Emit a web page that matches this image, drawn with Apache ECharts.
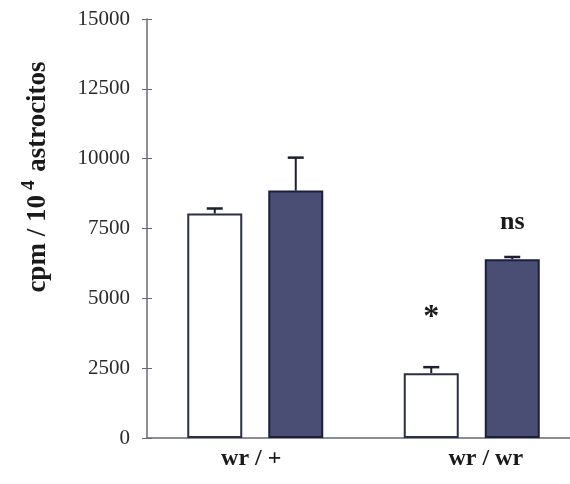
<!DOCTYPE html>
<html>
<head>
<meta charset="utf-8">
<script src="https://cdn.jsdelivr.net/npm/echarts@6/dist/echarts.min.js"></script>
<style>html,body{margin:0;padding:0;background:#fff;}#c{width:570px;height:484px;}</style>
</head>
<body>
<div id="c"></div>
<script>
const categories = ['wr / +', 'wr / wr'];
const controlValues = [8036, 2321];
const controlErrors = [180, 215];
const treatedValues = [8857, 6400];
const treatedErrors = [1180, 80];
const yTicks = [0, 2500, 5000, 7500, 10000, 12500, 15000];
const annotations = [
  { cat: 1, value: 4300, text: '*', series: 0 },
  { cat: 1, value: 7720, text: 'ns', series: 1 }
];

const BAR_W = 55, GAP = 26, HALF = (BAR_W + GAP) / 2;
const serif = '"Liberation Serif", "DejaVu Serif", serif';
const chart = echarts.init(document.getElementById('c'));

function errSeries(vals, errs, dir) {
  return {
    type: 'custom',
    z: 5,
    data: vals.map((v, i) => [i, v, v + errs[i]]),
    renderItem: function (params, api) {
      const lo = api.coord([api.value(0), api.value(1)]);
      const hi = api.coord([api.value(0), api.value(2)]);
      const x = lo[0] + dir * HALF;
      return {
        type: 'group',
        children: [
          { type: 'line', shape: { x1: x, y1: lo[1], x2: x, y2: hi[1] }, style: { stroke: '#1c1f2e', lineWidth: 2 } },
          { type: 'line', shape: { x1: x - 8, y1: hi[1], x2: x + 8, y2: hi[1] }, style: { stroke: '#1c1f2e', lineWidth: 2.5 } }
        ]
      };
    }
  };
}

chart.setOption({
  animation: false,
  backgroundColor: '#fff',
  grid: { left: 147, width: 433, top: 19, bottom: 46, outerBoundsMode: 'none', containLabel: false },
  xAxis: {
    type: 'category',
    data: categories,
    axisLine: { lineStyle: { color: '#666a75', width: 1.5 } },
    axisTick: { show: false },
    axisLabel: {
      margin: 9,
      formatter: function (v, i) { return i === 0 ? '{a|' + v + '}' : '{b|' + v + '}'; },
      rich: {
        a: { fontFamily: serif, fontWeight: 'bold', fontSize: 24, color: '#1a1a1a', padding: [0, 8, 0, 0] },
        b: { fontFamily: serif, fontWeight: 'bold', fontSize: 24, color: '#1a1a1a', padding: [0, 0, 0, 28] }
      }
    }
  },
  yAxis: [{
    type: 'value',
    min: yTicks[0], max: yTicks[yTicks.length - 1], interval: 2500,
    splitLine: { show: false },
    axisLine: { show: true, lineStyle: { color: '#666a75', width: 1.5 } },
    axisTick: { show: true, length: 5, lineStyle: { color: '#666a75' } },
    axisLabel: { margin: 17, fontFamily: serif, fontSize: 21, color: '#2a2a2a', formatter: function (v) { return String(v); } }
  }, {
    type: 'value', position: 'left',
    min: yTicks[0], max: yTicks[yTicks.length - 1], interval: 2500,
    splitLine: { show: false },
    axisLine: { show: false },
    axisTick: { show: true, inside: true, length: 5, lineStyle: { color: '#666a75' } },
    axisLabel: { show: false }
  }],
  graphic: [{
    type: 'text',
    x: 36, y: 177,
    rotation: Math.PI / 2,
    style: {
      text: '{m|cpm / 10}{s|4}{m| astrocitos}',
      align: 'center', verticalAlign: 'middle',
      rich: {
        m: { fontFamily: serif, fontWeight: 'bold', fontSize: 27, fill: '#1a1a1a', verticalAlign: 'bottom', lineHeight: 32 },
        s: { fontFamily: serif, fontWeight: 'bold', fontSize: 19, fill: '#1a1a1a', verticalAlign: 'top', lineHeight: 32, padding: [0, 2, 14, 5] }
      }
    }
  }],
  series: [
    {
      type: 'bar', data: controlValues, barWidth: BAR_W, barGap: (GAP / BAR_W * 100) + '%',
      itemStyle: { color: '#ffffff', borderColor: '#2a2f45', borderWidth: 2 }
    },
    {
      type: 'bar', data: treatedValues, barWidth: BAR_W,
      itemStyle: { color: '#4a4e74', borderColor: '#1c1f3a', borderWidth: 2 }
    },
    errSeries(controlValues, controlErrors, -1),
    errSeries(treatedValues, treatedErrors, 1),
    {
      type: 'custom', z: 6,
      data: annotations.map(a => [a.cat, a.value, a.series]),
      renderItem: function (params, api) {
        const a = annotations[params.dataIndex];
        const p = api.coord([api.value(0), api.value(1)]);
        return {
          type: 'text',
          x: p[0] + (a.series === 0 ? -HALF : HALF), y: p[1],
          style: {
            text: a.text, align: 'center', verticalAlign: 'middle',
            fontFamily: serif, fontWeight: 'bold', fontSize: a.text === '*' ? 32 : 26, fill: '#1a1a1a'
          }
        };
      }
    }
  ]
});
</script>
</body>
</html>
